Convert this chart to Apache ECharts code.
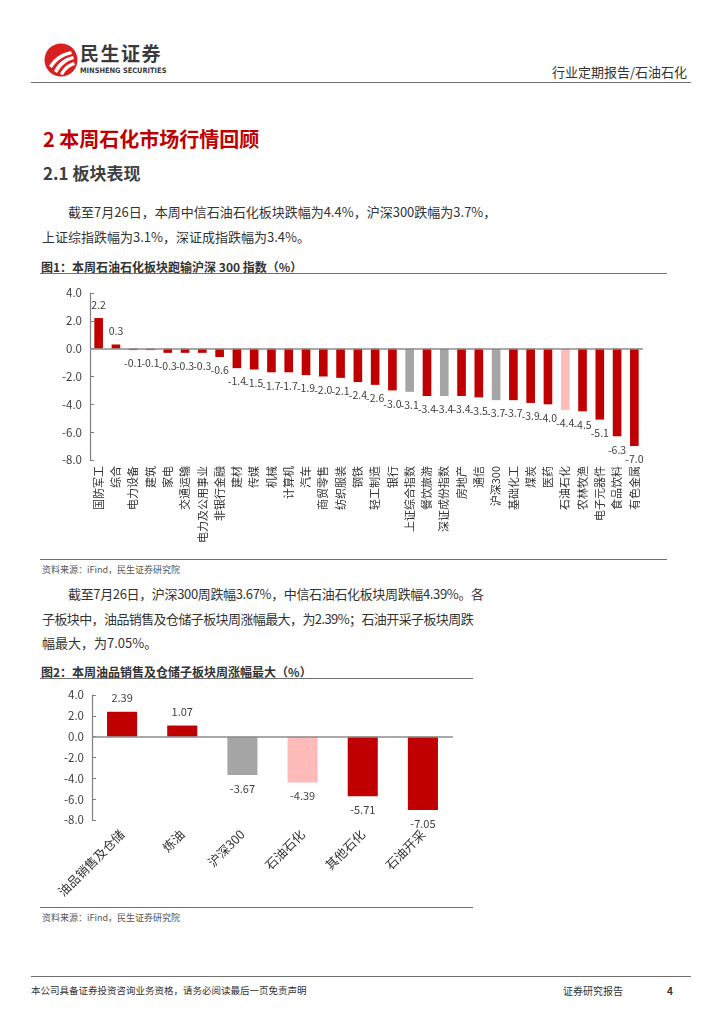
<!DOCTYPE html>
<html><head><meta charset="utf-8">
<script src="https://cdn.jsdelivr.net/npm/echarts@6/dist/echarts.min.js"></script>
<style>
html,body{margin:0;padding:0;background:#fff;}
body{width:724px;height:1024px;position:relative;overflow:hidden;font-family:"Noto Sans CJK SC","Noto Sans",sans-serif;color:#333;}
.abs{position:absolute;white-space:nowrap;}
.hline{position:absolute;height:0;border-top:1.5px solid #707070;}
</style></head>
<body>
<svg class="abs" style="left:44px;top:42px" width="36" height="36" viewBox="0 0 36 36">
  <circle cx="17" cy="18" r="16.5" fill="#d7201f"/>
  <path d="M5 24 C10 16 17 11 27 9 L28 12 C19 14 12 19 8 26 Z" fill="#fff"/>
  <path d="M10 29 C14 21 20 16 29 14 L30 17 C22 19 17 24 13 31 Z" fill="#fff"/>
  <path d="M16 32 C19 26 23 22 30 20 L31 23 C25 25 22 28 19 33 Z" fill="#fff"/>
</svg>
<div class="abs" style="left:80px;top:42px;font-size:19px;line-height:22px;font-weight:bold;color:#3b3b3b;letter-spacing:1.5px;">民生证券</div>
<div class="abs" style="left:80px;top:66px;font-size:7.4px;line-height:9px;font-weight:bold;color:#3b3b3b;font-family:'Liberation Sans Narrow','DejaVu Sans Condensed','Liberation Sans',sans-serif;">MINSHENG SECURITIES</div>
<div class="abs" style="left:552px;top:62px;font-size:13px;color:#333;">行业定期报告/石油石化</div>
<div class="hline" style="left:31px;top:82px;width:660px;"></div>

<div class="abs" style="left:43px;top:124px;font-size:20px;font-weight:bold;color:#c00000;">2 本周石化市场行情回顾</div>
<div class="abs" style="left:43px;top:160px;font-size:17px;font-weight:bold;color:#404040;">2.1 板块表现</div>
<div class="abs" style="left:68px;top:202px;font-size:13px;color:#333;">截至7月26日，本周中信石油石化板块跌幅为4.4%，沪深300跌幅为3.7%，</div>
<div class="abs" style="left:42px;top:227px;font-size:13px;color:#333;">上证综指跌幅为3.1%，深证成指跌幅为3.4%。</div>

<div class="abs" style="left:41px;top:258px;font-size:12px;font-weight:bold;color:#333;">图1：本周石油石化板块跑输沪深 300 指数（%）</div>
<div class="hline" style="left:40px;top:273px;width:627px;"></div>
<div id="c1" class="abs" style="left:40px;top:280px;width:630px;height:278px;"></div>
<div class="hline" style="left:40px;top:559px;width:627px;"></div>
<div class="abs" style="left:42px;top:563px;font-size:9px;color:#555;">资料来源：iFind，民生证券研究院</div>

<div class="abs" style="left:68px;top:584px;font-size:13px;color:#333;letter-spacing:-0.35px;">截至7月26日，沪深300周跌幅3.67%，中信石油石化板块周跌幅4.39%。各</div>
<div class="abs" style="left:42px;top:609px;font-size:13px;color:#333;letter-spacing:-0.6px;">子板块中，油品销售及仓储子板块周涨幅最大，为2.39%；石油开采子板块周跌</div>
<div class="abs" style="left:42px;top:633px;font-size:13px;color:#333;">幅最大，为7.05%。</div>

<div class="abs" style="left:41px;top:663px;font-size:12px;font-weight:bold;color:#333;">图2：本周油品销售及仓储子板块周涨幅最大（%）</div>
<div class="hline" style="left:40px;top:678px;width:433px;"></div>
<div id="c2" class="abs" style="left:40px;top:685px;width:440px;height:220px;"></div>
<div class="hline" style="left:40px;top:907px;width:433px;"></div>
<div class="abs" style="left:42px;top:911px;font-size:9px;color:#555;">资料来源：iFind，民生证券研究院</div>

<div class="hline" style="left:31px;top:976px;width:660px;"></div>
<div class="abs" style="left:31px;top:983px;font-size:9.5px;color:#333;">本公司具备证券投资咨询业务资格，请务必阅读最后一页免责声明</div>
<div class="abs" style="left:563px;top:983px;font-size:10px;color:#333;">证券研究报告</div>
<div class="abs" style="left:667px;top:983px;font-size:10px;font-weight:bold;color:#333;">4</div>

<script>
// Figure 1 data
const fig1Categories = ['国防军工','综合','电力设备','建筑','家电','交通运输','电力及公用事业','非银行金融','建材','传媒','机械','计算机','汽车','商贸零售','纺织服装','钢铁','轻工制造','银行','上证综合指数','餐饮旅游','深证成份指数','房地产','通信','沪深300','基础化工','煤炭','医药','石油石化','农林牧渔','电子元器件','食品饮料','有色金属'];
const fig1Values = [2.2,0.3,-0.1,-0.1,-0.3,-0.3,-0.3,-0.6,-1.4,-1.5,-1.7,-1.7,-1.9,-2.0,-2.1,-2.4,-2.6,-3.0,-3.1,-3.4,-3.4,-3.4,-3.5,-3.7,-3.7,-3.9,-4.0,-4.4,-4.5,-5.1,-6.3,-7.0];
const fig1Grey = ['上证综合指数','深证成份指数','沪深300'];
const fig1Pink = ['石油石化'];
const yTicks = [4.0, 2.0, 0.0, -2.0, -4.0, -6.0, -8.0];

// Figure 2 data
const fig2Categories = ['油品销售及仓储','炼油','沪深300','石油石化','其他石化','石油开采'];
const fig2Values = [2.39,1.07,-3.67,-4.39,-5.71,-7.05];
const fig2Grey = ['沪深300'];
const fig2Pink = ['石油石化'];

const RED = '#c00000', GREY = '#a5a5a5', PINK = '#ffbaba';
const FONT = '"Noto Sans CJK SC","Noto Sans",sans-serif';

function colorFor(name, greys, pinks){
  if (greys.includes(name)) return GREY;
  if (pinks.includes(name)) return PINK;
  return RED;
}

function buildOption(cats, vals, greys, pinks, cfg){
  return {
    animation:false,
    grid:cfg.grid,
    xAxis:{
      type:'category', data:cats, position:'bottom',
      axisLine:{show:false}, axisTick:{show:false},
      axisLabel:{interval:0, rotate:cfg.rotate, margin:cfg.margin, fontSize:cfg.catFont, color:'#333', fontFamily:FONT}
    },
    yAxis:{
      type:'value', min:yTicks[yTicks.length-1], max:yTicks[0], interval:2,
      axisLine:{show:true, lineStyle:{color:'#7f7f7f', width:1.2}},
      axisTick:{show:true, inside:true, length:4, lineStyle:{color:'#7f7f7f'}},
      splitLine:{show:false},
      axisLabel:{formatter:v=>v.toFixed(1), fontSize:11.5, color:'#404040', fontFamily:FONT, margin:8}
    },
    series:[{
      type:'bar', barWidth:cfg.barWidth,
      data:vals.map((v,i)=>({
        value:v,
        itemStyle:{color:colorFor(cats[i], greys, pinks)},
        label:{position: v>=0 ? 'top':'bottom'}
      })),
      label:{show:true, distance:cfg.labelDist, fontSize:cfg.labelFont, color:'#404040', fontFamily:FONT,
        formatter:p=>p.value.toFixed(cfg.decimals)},
      markLine:{
        silent:true, symbol:'none', label:{show:false},
        lineStyle:{color:'#8c8c8c', type:'solid', width:1.5},
        data:[{yAxis:0}]
      }
    }]
  };
}

const c1 = echarts.init(document.getElementById('c1'), null, {renderer:'canvas'});
c1.setOption(buildOption(fig1Categories, fig1Values, fig1Grey, fig1Pink, {
  grid:{left:50, right:27, top:13, bottom:98},
  rotate:90, margin:6, catFont:11, barWidth:'50%', labelDist:8, labelFont:10.5, decimals:1
}));

const c2 = echarts.init(document.getElementById('c2'), null, {renderer:'canvas'});
c2.setOption(buildOption(fig2Categories, fig2Values, fig2Grey, fig2Pink, {
  grid:{left:52, right:27, top:10, bottom:85},
  rotate:45, margin:12, catFont:12.5, barWidth:'50%', labelDist:8, labelFont:11, decimals:2
}));
</script>
</body></html>
